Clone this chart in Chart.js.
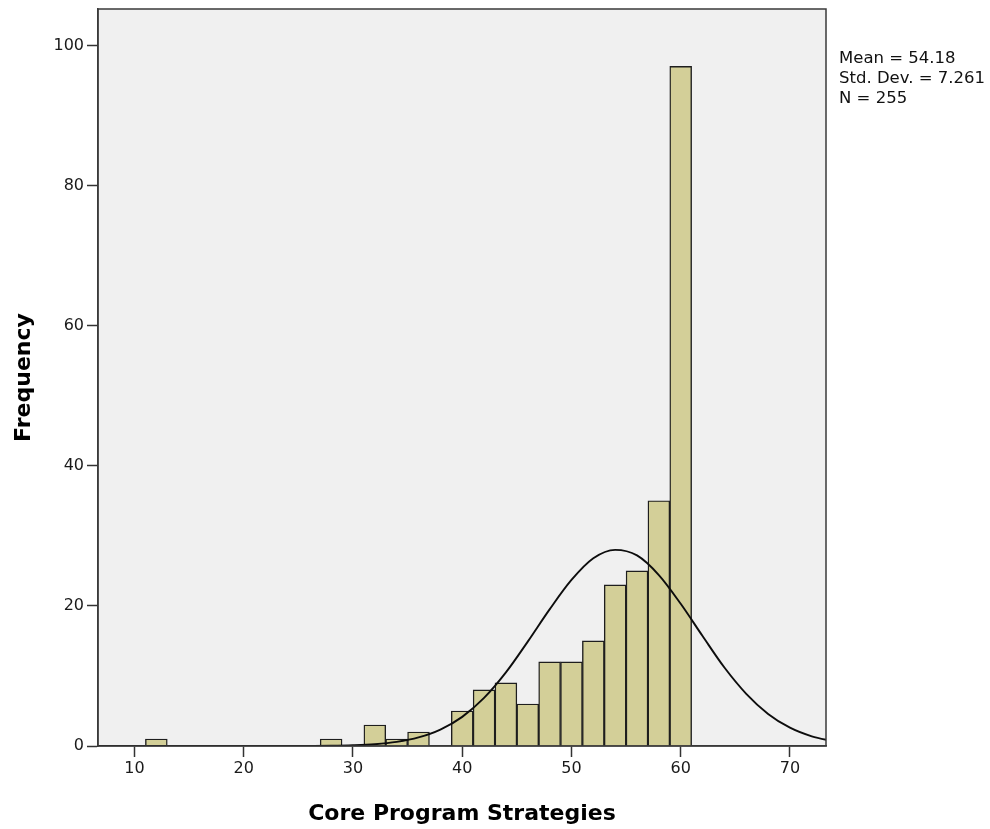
<!DOCTYPE html>
<html>
<head>
<meta charset="utf-8">
<script src="https://cdn.jsdelivr.net/npm/chart.js@4.4.1/dist/chart.umd.min.js"></script>
<style>
  html, body { margin: 0; padding: 0; background: #ffffff; }
  #wrap { width: 990px; height: 829px; }
</style>
</head>
<body>
<div id="wrap"><canvas id="c" width="990" height="829"></canvas></div>
<script>
// ---- data ----
const binCenters = [12, 28, 32, 34, 36, 40, 42, 44, 46, 48, 50, 52, 54, 56, 58, 60];
const frequencies = [1, 1, 3, 1, 2, 5, 8, 9, 6, 12, 12, 15, 23, 25, 35, 97];

const curveX = [6, 8, 10, 12, 14, 16, 18, 20, 22, 24, 26, 28, 30, 32, 34, 36, 38, 40, 42, 44, 46, 48, 50, 52, 54, 56, 58, 60, 62, 64, 66, 68, 70, 72, 74];
const curveY = [0, 0, 0, 0, 0, 0, 0, 0, 0, 0.01, 0.02, 0.04, 0.11, 0.26, 0.59, 1.22, 2.34, 4.16, 6.86, 10.5, 14.9, 19.5, 23.7, 26.8, 28.0, 27.2, 24.4, 20.3, 15.7, 11.2, 7.45, 4.58, 2.61, 1.38, 0.67];

const xTicks = [10, 20, 30, 40, 50, 60, 70];
const yTicks = [0, 20, 40, 60, 80, 100];

const xTitle = 'Core Program Strategies';
const yTitle = 'Frequency';
const statsLines = ['Mean = 54.18', 'Std. Dev. = 7.261', 'N = 255'];

// ---- plugins ----
const plotBg = {
  id: 'plotBg',
  beforeDraw(chart) {
    const {ctx, chartArea: a} = chart;
    ctx.save();
    ctx.fillStyle = '#f0f0f0';
    ctx.fillRect(a.left, a.top, a.right - a.left, a.bottom - a.top);
    ctx.restore();
  },
  afterDraw(chart) {
    const {ctx, chartArea: a} = chart;
    ctx.save();
    ctx.strokeStyle = '#3a3a3a';
    ctx.lineWidth = 1.5;
    ctx.strokeRect(a.left, a.top, a.right - a.left, a.bottom - a.top);
    ctx.fillStyle = '#111111';
    ctx.font = '16.5px "DejaVu Sans"';
    ctx.textBaseline = 'alphabetic';
    ctx.textAlign = 'left';
    statsLines.forEach((t, i) => ctx.fillText(t, a.right + 13, a.top + 53.5 + i * 20.3));
    ctx.restore();
  }
};

const ctx = document.getElementById('c').getContext('2d');
new Chart(ctx, {
  type: 'bar',
  data: {
    datasets: [
      {
        type: 'line',
        data: curveX.map((x, i) => ({x: x, y: curveY[i]})),
        borderColor: '#0d0d0d',
        borderWidth: 1.9,
        pointRadius: 0,
        tension: 0.4,
        cubicInterpolationMode: 'monotone',
        fill: false,
        order: 0
      },
      {
        type: 'bar',
        data: binCenters.map((x, i) => ({x: x, y: frequencies[i]})),
        backgroundColor: '#d3cf98',
        borderColor: '#1e1e1e',
        borderWidth: 1.4,
        barPercentage: 1,
        categoryPercentage: 1,
        order: 1
      }
    ]
  },
  options: {
    responsive: false,
    animation: false,
    devicePixelRatio: 1,
    layout: { padding: { left: 0, top: 9, right: 164, bottom: 0 } },
    plugins: { legend: { display: false }, tooltip: { enabled: false } },
    scales: {
      x: {
        type: 'linear',
        offset: false,
        min: 6.66,
        max: 73.3,
        afterBuildTicks: s => { s.ticks = xTicks.map(v => ({value: v})); },
        afterFit: s => { s.height = 83; s.paddingLeft = 0; s.paddingRight = 0; },
        grid: { offset: false, drawOnChartArea: false, drawTicks: true, tickLength: 11, tickColor: '#333333', tickWidth: 1.5 },
        border: { display: true, color: '#3a3a3a', width: 1.5 },
        ticks: { color: '#1a1a1a', font: { family: '"DejaVu Sans"', size: 16 }, padding: 2, maxRotation: 0 },
        title: { display: true, text: xTitle, color: '#000000', font: { family: '"DejaVu Sans"', size: 22, weight: 'bold' }, padding: { top: 0, bottom: 2 } }
      },
      y: {
        min: 0,
        max: 105.2,
        afterBuildTicks: s => { s.ticks = yTicks.map(v => ({value: v})); },
        afterFit: s => { s.width = 98; s.paddingTop = 0; s.paddingBottom = 0; },
        grid: { drawOnChartArea: false, drawTicks: true, tickLength: 11, tickColor: '#333333', tickWidth: 1.5 },
        border: { display: true, color: '#3a3a3a', width: 1.5 },
        ticks: { color: '#1a1a1a', font: { family: '"DejaVu Sans"', size: 16 }, padding: 3 },
        title: { display: true, text: yTitle, color: '#000000', font: { family: '"DejaVu Sans"', size: 22, weight: 'bold' }, padding: { top: 11, bottom: 0 } }
      }
    }
  },
  plugins: [plotBg]
});
</script>
</body>
</html>
